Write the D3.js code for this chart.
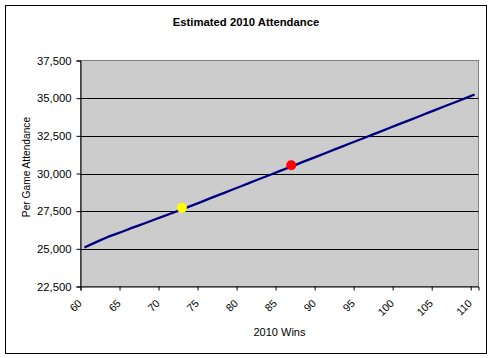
<!DOCTYPE html>
<html>
<head>
<meta charset="utf-8">
<script src="https://cdn.jsdelivr.net/npm/d3@7"></script>
<style>
  html, body { margin: 0; padding: 0; background: #fff; }
  svg { display: block; font-family: "Liberation Sans", Arial, sans-serif; }
</style>
</head>
<body>
<svg id="chart" width="493" height="358"></svg>
<script>
// ---- data ----
const chartTitle = "Estimated 2010 Attendance";
const xTitle = "2010 Wins";
const yTitle = "Per Game Attendance";

const wins = [60,61,62,63,64,65,66,67,68,69,70,71,72,73,74,75,76,77,78,79,80,
              81,82,83,84,85,86,87,88,89,90,91,92,93,94,95,96,97,98,99,100,
              101,102,103,104,105,106,107,108,109,110];
const attendance = [25090,25330,25560,25790,25980,26170,26370,26560,26750,26950,27140,
                    27330,27520,27720,27920,28120,28330,28530,28730,28940,29140,
                    29340,29550,29750,29950,30160,30360,30560,30770,30970,31170,
                    31380,31580,31780,31990,32190,32390,32600,32800,33000,33210,
                    33410,33610,33820,34020,34220,34430,34630,34830,35040,35240];

const xTickValues = [60,65,70,75,80,85,90,95,100,105,110];
const yTickValues = [22500,25000,27500,30000,32500,35000,37500];

const markerWins = [73, 87];
const markerAttendance = [27720, 30550];
const markerColors = ["#FFFF00", "#FF0000"];

// ---- layout ----
const svg = d3.select("#chart");
const pLeft = 80.5, pRight = 478.5, pTop = 60.5, pBottom = 286.5;

const xBand = d3.scaleBand().domain(wins).range([pLeft, pRight]).padding(0);
const xLin = d3.scaleLinear().domain([60, 111]).range([pLeft, pRight]);
const y = d3.scaleLinear().domain([22500, 37500]).range([pBottom, pTop]);

// outer chart border
svg.append("rect")
  .attr("x", 5.5).attr("y", 5.5)
  .attr("width", 481).attr("height", 348)
  .attr("fill", "#fff").attr("stroke", "#000").attr("stroke-width", 1);

// plot area
svg.append("rect")
  .attr("x", pLeft).attr("y", pTop)
  .attr("width", pRight - pLeft).attr("height", pBottom - pTop)
  .attr("fill", "#CCCCCC").attr("stroke", "#808080").attr("stroke-width", 1);

// gridlines
svg.append("g").selectAll("line")
  .data(yTickValues.filter(v => v > 22500 && v < 37500))
  .join("line")
  .attr("x1", pLeft).attr("x2", pRight)
  .attr("y1", d => Math.round(y(d)) + 0.5).attr("y2", d => Math.round(y(d)) + 0.5)
  .attr("stroke", "#000").attr("stroke-width", 1);

// y axis
const yAxis = d3.axisLeft(y).tickValues(yTickValues).tickSize(4).tickPadding(5)
  .tickFormat(d3.format(","));
const gy = svg.append("g").attr("transform", `translate(${pLeft},0)`).call(yAxis);
gy.select(".domain").attr("stroke", "#000");
gy.selectAll(".tick line").attr("stroke", "#000");
gy.selectAll(".tick text").attr("font-size", "11.3px").attr("fill", "#000")
  .attr("font-family", "'Liberation Sans', Arial, sans-serif");

// x axis
const xAxis = d3.axisBottom(xLin).tickValues(xTickValues).tickSize(4).tickFormat(d3.format("d"));
const gx = svg.append("g").attr("transform", `translate(0,${pBottom})`).call(xAxis);
gx.select(".domain").attr("stroke", "#000");
gx.selectAll(".tick line").attr("stroke", "#000");
gx.selectAll(".tick text")
  .attr("font-size", "10.6px").attr("fill", "#000")
  .attr("font-family", "'Liberation Sans', Arial, sans-serif")
  .attr("text-anchor", "end")
  .attr("y", 0).attr("dy", 0)
  .attr("transform", "translate(1.5,17.5) rotate(-45)");

// line
const line = d3.line()
  .x((d, i) => xBand(wins[i]) + xBand.bandwidth() / 2)
  .y(d => y(d));
svg.append("path")
  .datum(attendance)
  .attr("d", line)
  .attr("fill", "none")
  .attr("stroke", "#000080")
  .attr("stroke-width", 2.3)
  .attr("stroke-linejoin", "round");

// markers
svg.append("g").selectAll("circle")
  .data(markerWins)
  .join("circle")
  .attr("cx", d => xLin(d))
  .attr("cy", (d, i) => y(markerAttendance[i]))
  .attr("r", 5)
  .attr("fill", (d, i) => markerColors[i]);

// titles
svg.append("text")
  .attr("x", 246).attr("y", 26)
  .attr("text-anchor", "middle")
  .attr("font-size", "11.3px").attr("font-weight", "bold")
  .text(chartTitle);

svg.append("text")
  .attr("x", (pLeft + pRight) / 2).attr("y", 335.5)
  .attr("text-anchor", "middle")
  .attr("font-size", "11px")
  .text(xTitle);

svg.append("text")
  .attr("transform", `translate(30,167) rotate(-90)`)
  .attr("text-anchor", "middle")
  .attr("font-size", "10.2px")
  .text(yTitle);
</script>
</body>
</html>
